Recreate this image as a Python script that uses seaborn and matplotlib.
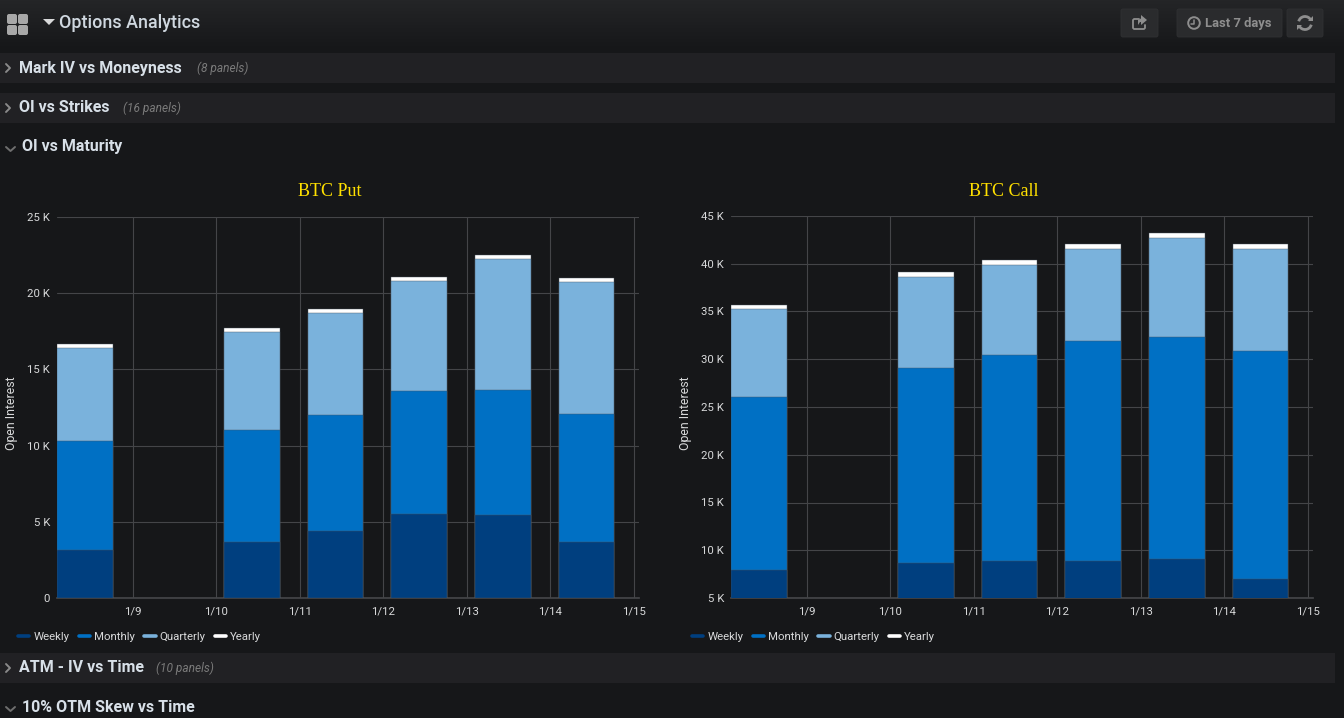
import matplotlib
matplotlib.use("Agg")
import numpy as np
import pandas as pd
import matplotlib.pyplot as plt
import seaborn as sns
from matplotlib.lines import Line2D
from matplotlib.patches import Rectangle, FancyBboxPatch, Circle, Polygon, Arc

# data
maturity_day = [8.43, 10.43, 11.43, 12.43, 13.43, 14.43]
series_names = ["Weekly", "Monthly", "Quarterly", "Yearly"]

put_weekly = [3150, 3700, 4400, 5500, 5450, 3650]
put_monthly = [7150, 7300, 7600, 8100, 8200, 8450]
put_quarterly = [6100, 6450, 6700, 7200, 8600, 8650]
put_yearly = [250, 250, 250, 250, 250, 250]

call_weekly = [7930, 8700, 8870, 8870, 9100, 7000]
call_monthly = [18120, 20400, 21580, 23030, 23200, 23850]
call_quarterly = [9200, 9500, 9450, 9650, 10400, 10700]
call_yearly = [450, 500, 500, 500, 500, 500]

tick_days = [9, 10, 11, 12, 13, 14, 15]
tick_labels = ["1/9", "1/10", "1/11", "1/12", "1/13", "1/14", "1/15"]

collapsed_rows = [
    ("Mark IV vs Moneyness", "(8 panels)", 53, 197),
    ("OI vs Strikes", "(16 panels)", 93, 123),
    ("ATM - IV vs Time", "(10 panels)", 653, 156),
]
open_rows = [("OI vs Maturity", 147), ("10% OTM Skew vs Time", 707)]

BG = "#161719"
ROW = "#212124"
GRID = "#444548"
TEXT = "#d8d9da"
ICON = "#8e8e8e"
colors = ["#003f7f", "#0070c4", "#7ab2dc", "#ffffff"]

sns.set_theme(style="darkgrid", rc={
    "figure.facecolor": BG,
    "axes.facecolor": BG,
    "grid.color": GRID,
    "grid.linewidth": 0.8,
    "axes.edgecolor": GRID,
    "text.color": TEXT,
    "xtick.color": TEXT,
    "ytick.color": TEXT,
    "axes.labelcolor": TEXT,
})
plt.rcParams["font.family"] = ["Roboto", "DejaVu Sans"]

W, H = 1344, 718
fig = plt.figure(figsize=(W / 100, H / 100), dpi=100)

# page chrome, drawn in pixel coordinates
page = fig.add_axes([0, 0, 1, 1], zorder=0)

# header fades into the page colour
fade = np.linspace(0, 1, 50).reshape(-1, 1)
page.imshow(fade, extent=(0, W, 50, 0), aspect="auto", vmin=0, vmax=1,
            cmap=matplotlib.colors.LinearSegmentedColormap.from_list("hdr", ["#242527", BG]))
page.set_xlim(0, W)
page.set_ylim(H, 0)
page.axis("off")

for x, y in [(7, 14), (18, 14), (7, 25), (18, 25)]:
    page.add_patch(FancyBboxPatch((x + 1, y + 1), 8, 8, boxstyle="round,pad=1,rounding_size=2",
                                  color="#a8a8a8", lw=0))
page.add_patch(Polygon([(43, 19), (55, 19), (49, 25)], color=TEXT, lw=0))
page.text(59, 23, "Options Analytics", fontsize=12.9, fontweight="medium", va="center", color="#d0d8e0")

# top right buttons
for x, w in [(1120, 39), (1176, 107), (1286, 38)]:
    page.add_patch(FancyBboxPatch((x + 1, 9), w - 2, 28, boxstyle="round,pad=0,rounding_size=2",
                                  fc="#2a2b2d", ec="#303133", lw=0.6))
# share icon: open box with an arrow leaving it
page.plot([1139, 1134, 1133, 1133, 1134, 1144, 1145, 1145], [19, 19, 20, 28, 29, 29, 28, 25], color=ICON, lw=1.3)
page.add_patch(Polygon([(1138, 25), (1138, 20), (1141, 18.5), (1141, 15), (1147, 20),
                        (1141, 25), (1141, 22), (1140, 22)], color=ICON, lw=0))
page.add_patch(Circle((1194, 23), 5.8, fc="none", ec=ICON, lw=1.4))
page.plot([1194, 1194, 1191], [19.5, 24, 24], color=ICON, lw=1.1)
page.text(1205, 24, "Last 7 days", fontsize=9.4, fontweight="bold", va="center", color=ICON)
page.add_patch(Arc((1305, 23), 13, 13, theta1=195, theta2=330, color=ICON, lw=2))
page.add_patch(Arc((1305, 23), 13, 13, theta1=15, theta2=150, color=ICON, lw=2))
page.add_patch(Polygon([(1308, 21), (1313, 21), (1313, 16)], color=ICON, lw=0))
page.add_patch(Polygon([(1302, 25), (1297, 25), (1297, 30)], color=ICON, lw=0))

# dashboard rows
for title, note, y, note_x in collapsed_rows:
    page.add_patch(Rectangle((0, y), 1335, 30, color=ROW, lw=0))
    page.plot([6, 10, 6], [y + 11, y + 15, y + 19], color="#8a8a8a", lw=1.4)
    page.text(19, y + 15, title, fontsize=11.5, fontweight="bold", va="center", color="#d8e0e8")
    page.text(note_x, y + 15, note, fontsize=8.6, style="italic", va="center", color="#7b7b7b")
for title, y in open_rows:
    page.plot([6, 10.5, 15], [y, y + 4, y], color="#6f6f6f", lw=1.4)
    page.text(22, y, title, fontsize=11.5, fontweight="bold", va="center", color="#d8e0e8")


def draw_panel(rect, title, series, ymin, ymax, ystep):
    left, top, right, bottom = rect
    ax = fig.add_axes([left / W, 1 - bottom / H, (right - left) / W, (bottom - top) / H], zorder=1)
    ax.patch.set_alpha(0)

    table = pd.DataFrame(dict(zip(series_names, series)))
    table["day"] = maturity_day
    stacked = table[series_names].cumsum(axis=1)

    # tallest first so that each lower band paints over the one above it
    for name, color in reversed(list(zip(series_names, colors))):
        sns.barplot(x=table["day"], y=stacked[name], native_scale=True, width=0.665,
                    color=color, saturation=1, edgecolor="#4a5560", linewidth=0.3,
                    zorder=3, ax=ax)

    day_per_px = 1 / 83.4
    ax.set_xlim(8.43 - 0.335, 15 + 5 * day_per_px)
    ax.set_ylim(ymin, ymax)
    ax.set_xticks(tick_days, tick_labels)
    ticks = np.arange(ymin, ymax + 1, ystep)
    ax.set_yticks(ticks, [f"{t // 1000} K" if t else "0" for t in ticks])
    ax.tick_params(length=0, labelsize=8.2, pad=5)
    ax.tick_params(axis="x", pad=6)
    ax.set_xlabel("")
    ax.set_ylabel("Open Interest", fontsize=8.8, labelpad=0)
    ax.yaxis.set_label_coords(-0.0665, 0.484)
    ax.grid(True, zorder=0)
    ax.set_axisbelow(True)
    for side in ["top", "right", "left"]:
        ax.spines[side].set_visible(False)
    ax.spines["bottom"].set_color(GRID)

    page.text((left + right) / 2 - 18.5, 191.5, title, fontsize=13, family="Liberation Serif",
              ha="center", va="center", color="#ffe000")

    handles = [Line2D([], [], color=c, lw=2.6) for c in colors]
    ax.legend(handles, series_names, ncol=4, frameon=False, fontsize=8.2, loc="lower left",
              bbox_to_anchor=(-39 / (right - left), -(641.5 - bottom) / (bottom - top)),
              borderaxespad=0, borderpad=0, handlelength=1.0, handletextpad=0.35,
              columnspacing=0.82, labelcolor=TEXT)
    return ax


draw_panel((57, 217, 639, 598), "BTC Put",
           [put_weekly, put_monthly, put_quarterly, put_yearly], 0, 25000, 5000)
draw_panel((731, 216, 1313, 598), "BTC Call",
           [call_weekly, call_monthly, call_quarterly, call_yearly], 5000, 45000, 5000)

fig.savefig("out.png", dpi=100, facecolor=BG)
